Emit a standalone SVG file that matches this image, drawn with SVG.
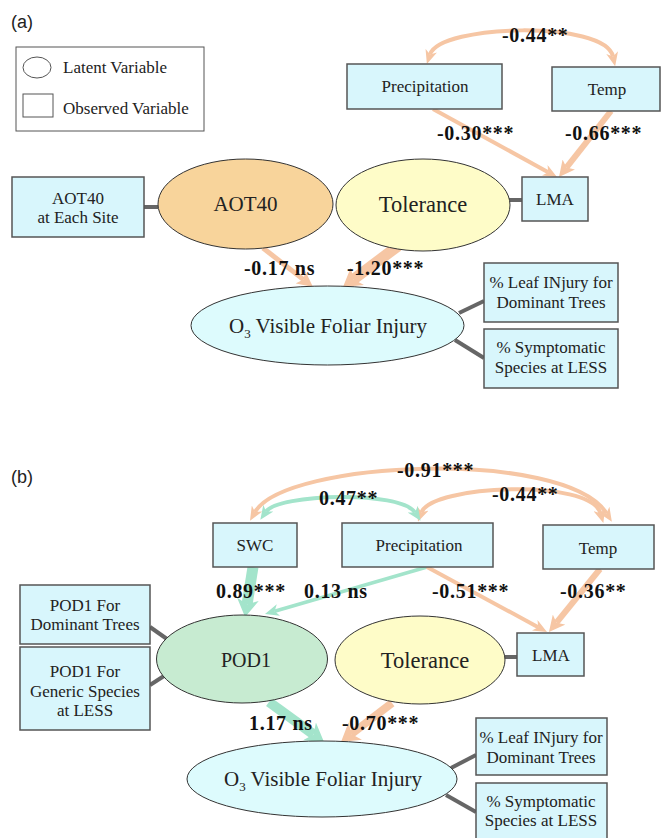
<svg xmlns="http://www.w3.org/2000/svg" width="661" height="838" viewBox="0 0 661 838">
<style>
  .box{fill:#D8F6FC;stroke:#555;stroke-width:1.5}
  .ell{stroke:#333;stroke-width:1}
  .t{font-family:"Liberation Serif",serif;font-size:17px;fill:#222;text-anchor:middle}
  .tl{font-family:"Liberation Serif",serif;font-size:21px;fill:#222;text-anchor:middle}
  .tl2{font-size:22.5px}
  .tl3{font-size:20px}
  .lab{font-family:"Liberation Serif",serif;font-size:20px;font-weight:bold;fill:#111;letter-spacing:0.7px}
  .pan{font-family:"Liberation Sans",sans-serif;font-size:18px;fill:#222}
  .gc{stroke:#666;stroke-width:4;fill:none}
  .oc{stroke:#F6C6A4;fill:none}
  .grc{stroke:#A3E4CB;fill:none}
</style>
<defs>
  <marker id="mO" markerUnits="userSpaceOnUse" markerWidth="14" markerHeight="12" refX="4" refY="6" orient="auto-start-reverse"><path d="M0,0 L14,6 L0,12 L4,6 z" fill="#F6C6A4"/></marker>
  <marker id="mOm" markerUnits="userSpaceOnUse" markerWidth="16" markerHeight="16" refX="4" refY="8" orient="auto-start-reverse"><path d="M0,0 L16,8 L0,16 L4,8 z" fill="#F6C6A4"/></marker>
  <marker id="mOb" markerUnits="userSpaceOnUse" markerWidth="18" markerHeight="22" refX="5" refY="11" orient="auto-start-reverse"><path d="M0,0 L18,11 L0,22 L5,11 z" fill="#F6C6A4"/></marker>
  <marker id="mG" markerUnits="userSpaceOnUse" markerWidth="14" markerHeight="12" refX="4" refY="6" orient="auto-start-reverse"><path d="M0,0 L14,6 L0,12 L4,6 z" fill="#A3E4CB"/></marker>
  <marker id="mGb" markerUnits="userSpaceOnUse" markerWidth="18" markerHeight="22" refX="5" refY="11" orient="auto-start-reverse"><path d="M0,0 L18,11 L0,22 L5,11 z" fill="#A3E4CB"/></marker>
</defs>
<rect width="661" height="838" fill="#fff"/>

<text class="pan" x="11" y="28">(a)</text>
<text class="pan" x="11" y="483">(b)</text>

<g id="legend">
  <rect x="16" y="47" width="188" height="84" fill="#fff" stroke="#555" stroke-width="1"/>
  <ellipse cx="37" cy="67.5" rx="14" ry="10.5" fill="#fff" stroke="#555" stroke-width="1"/>
  <text class="t" x="63" y="73" style="text-anchor:start">Latent Variable</text>
  <rect x="23" y="94" width="30" height="23" fill="#fff" stroke="#555" stroke-width="1"/>
  <text class="t" x="63" y="114" style="text-anchor:start">Observed Variable</text>
</g>

<g id="connectors">
  <line class="gc" x1="144" y1="207" x2="158" y2="207"/>
  <line class="gc" x1="509" y1="200" x2="522" y2="200"/>
  <line class="gc" x1="459" y1="313" x2="484" y2="301"/>
  <line class="gc" x1="455" y1="340" x2="484" y2="358"/>
  <line class="gc" x1="150" y1="627" x2="167" y2="639"/>
  <line class="gc" x1="150" y1="685" x2="164" y2="676"/>
  <line class="gc" x1="504" y1="657" x2="517" y2="657"/>
  <line class="gc" x1="451" y1="768" x2="476" y2="755"/>
  <line class="gc" x1="446" y1="795" x2="476" y2="812"/>

  <path class="oc" stroke-width="4" d="M430,54.5 C440,24 605,20 613,56.5" marker-start="url(#mO)" marker-end="url(#mO)"/>
  <line class="oc" stroke-width="4" x1="433" y1="109" x2="548.2" y2="172.2" marker-end="url(#mO)"/>
  <line class="oc" stroke-width="6" x1="611" y1="111" x2="566.4" y2="167.6" marker-end="url(#mOm)"/>
  <line class="oc" stroke-width="5" x1="263" y1="248" x2="303.5" y2="279.6" marker-end="url(#mOm)"/>
  <line class="oc" stroke-width="11" x1="398" y1="246" x2="353.4" y2="279.3" marker-end="url(#mOb)"/>

  <path class="oc" stroke-width="4" d="M255,512 C285,460 565,448 606.5,513.3" marker-start="url(#mO)" marker-end="url(#mO)"/>
  <path class="oc" stroke-width="4" d="M421.5,512.3 C432,485 590,478 600.5,513.3" marker-start="url(#mO)" marker-end="url(#mO)"/>
  <path class="grc" stroke-width="4" d="M266,511.5 C278,494 400,490 415,512.5" marker-start="url(#mG)" marker-end="url(#mG)"/>
  <line class="grc" stroke-width="11" x1="253" y1="567" x2="247.1" y2="604.2" marker-end="url(#mGb)"/>
  <line class="grc" stroke-width="3.5" x1="427" y1="567" x2="274.6" y2="611.2" marker-end="url(#mG)"/>
  <line class="oc" stroke-width="4" x1="427" y1="567" x2="538.2" y2="627.2" marker-end="url(#mO)"/>
  <line class="oc" stroke-width="6" x1="600" y1="569" x2="556.5" y2="622.7" marker-end="url(#mOm)"/>
  <line class="grc" stroke-width="10" x1="269" y1="702" x2="313.5" y2="734.4" marker-end="url(#mGb)"/>
  <line class="oc" stroke-width="8" x1="392" y1="703" x2="351.3" y2="734.1" marker-end="url(#mOb)"/>

  <text class="lab" x="502" y="42">-0.44**</text>
  <text class="lab" x="437" y="140">-0.30***</text>
  <text class="lab" x="565" y="140">-0.66***</text>
  <text class="lab" x="244" y="275">-0.17 ns</text>
  <text class="lab" x="347" y="275">-1.20***</text>
  <text class="lab" x="397" y="477">-0.91***</text>
  <text class="lab" x="319" y="505">0.47**</text>
  <text class="lab" x="492" y="501">-0.44**</text>
  <text class="lab" x="216" y="598">0.89***</text>
  <text class="lab" x="304" y="598">0.13 ns</text>
  <text class="lab" x="432" y="598">-0.51***</text>
  <text class="lab" x="560" y="598">-0.36**</text>
  <text class="lab" x="249" y="730">1.17 ns</text>
  <text class="lab" x="342" y="730">-0.70***</text>
</g>

<g id="a-aot40-site"><rect class="box" x="12" y="177" width="132" height="60"/><text class="t" x="78" y="204">AOT40</text><text class="t" x="78" y="223">at Each Site</text></g>
<g id="a-aot40"><ellipse class="ell" cx="245.5" cy="204" rx="87.5" ry="45" fill="#F8D49B"/><text class="tl" x="245.5" y="211">AOT40</text></g>
<g id="a-tolerance"><ellipse class="ell" cx="423" cy="205" rx="87" ry="46" fill="#FEFCC8"/><text class="tl tl2" x="423" y="212">Tolerance</text></g>
<g id="a-lma"><rect class="box" x="522" y="177" width="66" height="44"/><text class="t" x="555" y="205">LMA</text></g>
<g id="a-precip"><rect class="box" x="347" y="64" width="155" height="45"/><text class="t" x="425" y="92">Precipitation</text></g>
<g id="a-temp"><rect class="box" x="552" y="67" width="108" height="44"/><text class="t" x="607" y="95">Temp</text></g>
<g id="a-o3"><ellipse class="ell" cx="327.5" cy="325.5" rx="136.5" ry="39.5" fill="#DDFBFD"/><text class="tl" x="328" y="333">O<tspan font-size="13" dy="5">3</tspan><tspan dy="-5"> Visible Foliar Injury</tspan></text></g>
<g id="a-leaf"><rect class="box" x="484" y="263" width="134" height="59"/><text class="t" x="551" y="288">% Leaf INjury for</text><text class="t" x="551" y="308">Dominant Trees</text></g>
<g id="a-symp"><rect class="box" x="484" y="329" width="134" height="59"/><text class="t" x="551" y="353">% Symptomatic</text><text class="t" x="551" y="373">Species at LESS</text></g>

<g id="b-swc"><rect class="box" x="213" y="523" width="84" height="44"/><text class="t" x="255" y="551">SWC</text></g>
<g id="b-precip"><rect class="box" x="342" y="523" width="151" height="44"/><text class="t" x="419" y="551">Precipitation</text></g>
<g id="b-temp"><rect class="box" x="543" y="525" width="111" height="44"/><text class="t" x="598" y="554">Temp</text></g>
<g id="b-pod-dom"><rect class="box" x="20" y="585" width="130" height="59"/><text class="t" x="85" y="611">POD1 For</text><text class="t" x="85" y="630">Dominant Trees</text></g>
<g id="b-pod-gen"><rect class="box" x="20" y="647" width="130" height="83"/><text class="t" x="85" y="677">POD1 For</text><text class="t" x="85" y="697">Generic Species</text><text class="t" x="85" y="716">at LESS</text></g>
<g id="b-pod1"><ellipse class="ell" cx="242" cy="659" rx="85.5" ry="44" fill="#C7EBD1"/><text class="tl tl3" x="246" y="667">POD1</text></g>
<g id="b-tolerance"><ellipse class="ell" cx="420" cy="660" rx="85" ry="44" fill="#FEFCC8"/><text class="tl tl2" x="425" y="668">Tolerance</text></g>
<g id="b-lma"><rect class="box" x="517" y="633" width="67" height="43"/><text class="t" x="551" y="661">LMA</text></g>
<g id="b-o3"><ellipse class="ell" cx="322" cy="779" rx="135" ry="38" fill="#DDFBFD"/><text class="tl" x="323" y="786">O<tspan font-size="13" dy="5">3</tspan><tspan dy="-5"> Visible Foliar Injury</tspan></text></g>
<g id="b-leaf"><rect class="box" x="476" y="718" width="131" height="57"/><text class="t" x="541" y="743">% Leaf INjury for</text><text class="t" x="541" y="763">Dominant Trees</text></g>
<g id="b-symp"><rect class="box" x="476" y="783" width="131" height="60"/><text class="t" x="541" y="807">% Symptomatic</text><text class="t" x="541" y="826">Species at LESS</text></g>
</svg>
